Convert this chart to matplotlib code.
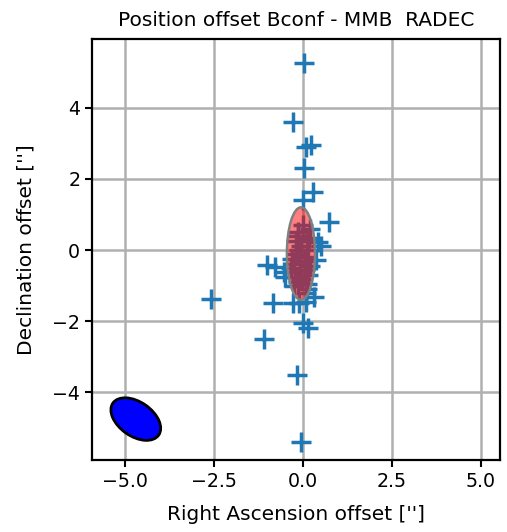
import matplotlib
matplotlib.use('Agg')
import matplotlib.pyplot as plt
from matplotlib.patches import Ellipse

# offsets in arcsec
ra_off = [0.03, -0.28, 0.22, 0.08, 0.03, 0.28, 0.0, 0.73, 0.42, 0.37, 0.5,
          -1.01, -0.8, -0.55, -0.5, -2.58, -0.84, -0.28, -0.11, 0.08, 0.31,
          0.0, 0.14, -1.1, -0.17, -0.06,
          -0.15, 0.1, 0.15, -0.2, 0.05, -0.1, 0.15, -0.15, 0.1, -0.05, 0.2, -0.25, -0.35,
          -0.2, 0.12, -0.05, 0.18, -0.22, 0.0, 0.08, -0.12, 0.2, -0.3,
          -0.25, 0.05, -0.15, 0.1]
dec_off = [5.25, 3.6, 2.95, 2.89, 2.3, 1.63, 1.4, 0.79, 0.22, -0.28, 0.1,
           -0.42, -0.48, -0.62, -0.75, -1.38, -1.49, -1.49, -1.49, -1.46, -1.32,
           -2.05, -2.2, -2.5, -3.51, -5.39,
           0.5, 0.3, 0.0, -0.1, -0.3, -0.6, -0.7, -0.9, -1.1, 0.1, 0.6, -0.4, -0.5,
           0.25, -0.2, -0.8, 0.35, -0.75, 0.7, -1.2, 0.0, -0.45, -0.25,
           -1.0, -0.55, 0.4, -0.95]

# mean offset ellipse
ell_center = (-0.06, -0.1)
ell_w, ell_h, ell_ang = 0.79, 2.6, 0.0

# beam
beam_center = (-4.7, -4.75)
beam_w, beam_h, beam_ang = 1.57, 0.96, -35.0

fig = plt.figure(figsize=(5.07, 5.32), dpi=100)
ax = fig.add_axes([0.1815, 0.1353, 0.8045, 0.7914])

ax.plot(ra_off, dec_off, '+', color='tab:blue', markersize=14, mew=2.5, zorder=2)

e = Ellipse(ell_center, ell_w, ell_h, angle=ell_ang, facecolor=(1, 0, 0, 0.5),
            edgecolor='gray', lw=1.8, zorder=3)
ax.add_patch(e)

b = Ellipse(beam_center, beam_w, beam_h, angle=beam_ang, facecolor='blue',
            edgecolor='black', lw=2, zorder=3)
ax.add_patch(b)

ax.set_xlim(-5.93, 5.53)
ax.set_ylim(-5.9, 5.93)
ax.set_xticks([-5.0, -2.5, 0.0, 2.5, 5.0])
ax.set_yticks([-4, -2, 0, 2, 4])
ax.grid(True, color='#b0b0b0', lw=1.8)
ax.set_axisbelow(True)
ax.tick_params(labelsize=13.7, length=5, width=1.5)
for s in ax.spines.values():
    s.set_linewidth(1.6)

ax.set_title('Position offset Bconf - MMB  RADEC', fontsize=14.5, pad=9)
ax.set_xlabel("Right Ascension offset ['']", fontsize=14.5, labelpad=10)
ax.set_ylabel("Declination offset ['']", fontsize=14.5, labelpad=12)

fig.savefig('out.png', dpi=100)
